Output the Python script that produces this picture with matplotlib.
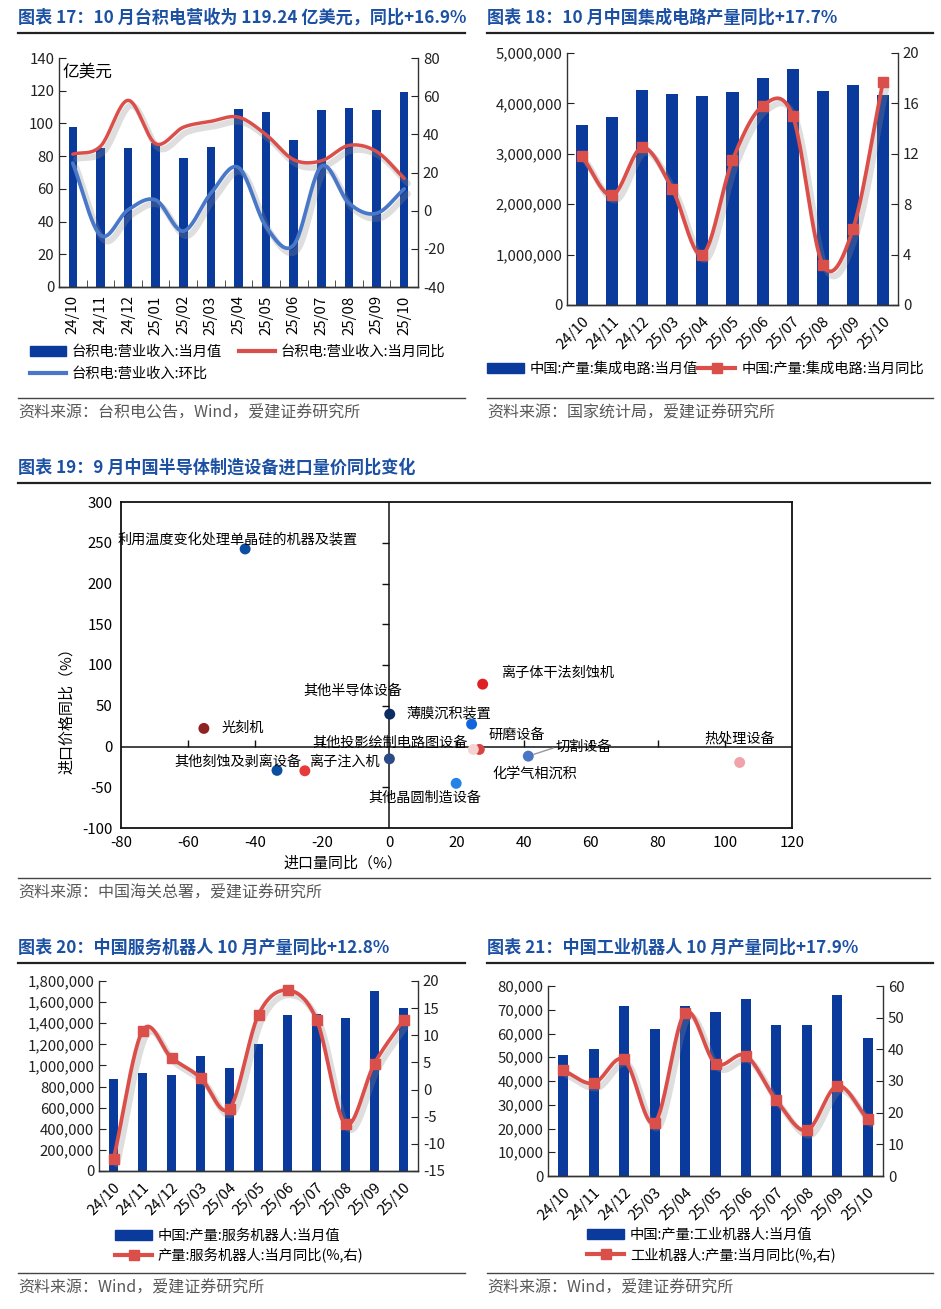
import numpy as np
import matplotlib
matplotlib.use("Agg")
import matplotlib.pyplot as plt
import matplotlib.patheffects as pe
from matplotlib.lines import Line2D
from matplotlib.patches import Patch
from matplotlib.ticker import StrMethodFormatter

plt.rcParams['font.family'] = ['Noto Sans CJK SC', 'DejaVu Sans']
plt.rcParams['axes.unicode_minus'] = False

# ---- data ----
tsmc_months = ['24/10', '24/11', '24/12', '25/01', '25/02', '25/03', '25/04',
               '25/05', '25/06', '25/07', '25/08', '25/09', '25/10']
tsmc_rev = [98, 85.2, 85, 88, 79, 85.8, 108.8, 106.8, 89.8, 108, 109.4, 108.4, 119.24]
tsmc_yoy = [29.6, 33.7, 57.8, 35.1, 43.7, 46.8, 49.0, 39.8, 26.7, 26.1, 34.2, 31.0, 16.9]
tsmc_mom = [24.9, -12.8, 0.4, 5.6, -10.7, 9.1, 22.6, -8.4, -18.0, 23.2, 3.9, -1.4, 11.4]

months = ['24/10', '24/11', '24/12', '25/03', '25/04', '25/05', '25/06',
          '25/07', '25/08', '25/09', '25/10']
ic_output = [3576000, 3740000, 4270000, 4190000, 4150000, 4230000, 4500000,
             4680000, 4240000, 4360000, 4170000]
ic_yoy = [11.8, 8.7, 12.5, 9.2, 4.0, 11.5, 15.8, 15.0, 3.2, 6.0, 17.7]

svc_output = [867000, 933000, 914000, 1088000, 980000, 1207000, 1475000,
              1485000, 1453000, 1709000, 1545000]
svc_yoy = [-12.85, 10.8, 5.85, 2.2, -3.5, 13.8, 18.3, 12.9, -6.4, 4.8, 12.8]

ind_output = [50800, 53600, 71400, 61900, 71500, 69000, 74700, 63700, 63700, 76200, 57900]
ind_yoy = [33.4, 29.3, 36.8, 16.8, 51.6, 35.5, 38.0, 23.9, 14.4, 28.5, 17.9]

equip_names = ['利用温度变化处理单晶硅的机器及装置', '光刻机', '其他半导体设备', '离子体干法刻蚀机',
               '薄膜沉积装置', '研磨设备', '其他投影绘制电路图设备', '切割设备', '化学气相沉积',
               '热处理设备', '其他刻蚀及剥离设备', '离子注入机', '其他晶圆制造设备']
equip_vol_yoy = [-43.0, -55.3, 0.1, 27.8, 24.5, 26.8, 0.0, 41.4, 25.0, 104.4, -33.5, -25.2, 19.9]
equip_price_yoy = [242.4, 22.2, 39.7, 76.5, 27.5, -3.6, -15.1, -11.8, -3.6, -19.6, -29.3, -29.8, -45.2]
equip_colors = ['#0B4EA2', '#8E2323', '#0C2D63', '#E01F22', '#1264DC', '#D84444', '#2C4A86',
                '#4A74C4', '#F6D3D3', '#F2A3AA', '#0B4EA2', '#E83A3A', '#2384E6']
# label offsets (pixels, label centre relative to point)
equip_label_off = [(-7, 10), (39, 0), (-37, 23), (75, 11), (-23, 11), (37, 14), (1, 16),
                   (56, 9), (62, -24), (0, 24), (-39, 9), (40, 9), (-31, -14)]

BLUE_BAR = '#0A3A9C'
RED = '#DB4F4A'
BLUE_LINE = '#4A78C8'
TITLE_C = '#1B50A3'
SRC_C = '#595959'

W, H = 941, 1309
fig = plt.figure(figsize=(W / 100, H / 100), dpi=100)


def box(l, t, r, b):
    return fig.add_axes([l / W, 1 - b / H, (r - l) / W, (b - t) / H])


def hline(x0, x1, y, lw, c):
    fig.add_artist(Line2D([x0 / W, x1 / W], [1 - y / H, 1 - y / H], lw=lw, color=c))


def frame(x0, x1, y_title, title, y_sep, src):
    fig.text(x0 / W, 1 - y_title / H, title, fontsize=12.3, fontweight='bold',
             color=TITLE_C, va='center', ha='left')
    hline(x0, x1, y_title + 15, 1.6, '#222222')
    hline(x0, x1, y_sep, 1.0, '#444444')
    fig.text(x0 / W, 1 - (y_sep + 15) / H, src, fontsize=11.5, color=SRC_C,
             va='center', ha='left')


def smooth(y, n=24):
    y = np.asarray(y, float)
    x = np.arange(len(y), dtype=float)
    px = np.concatenate([[2 * x[0] - x[1]], x, [2 * x[-1] - x[-2]]])
    py = np.concatenate([[2 * y[0] - y[1]], y, [2 * y[-1] - y[-2]]])
    xs, ys = [], []
    t = np.linspace(0, 1, n, endpoint=False)
    for i in range(1, len(px) - 2):
        for arr, out in ((px, xs), (py, ys)):
            p0, p1, p2, p3 = arr[i - 1], arr[i], arr[i + 1], arr[i + 2]
            out.extend(0.5 * (2 * p1 + (-p0 + p2) * t + (2 * p0 - 5 * p1 + 4 * p2 - p3) * t ** 2
                              + (-p0 + 3 * p1 - 3 * p2 + p3) * t ** 3))
    xs.append(x[-1])
    ys.append(y[-1])
    return np.array(xs), np.array(ys)


shadow = [pe.SimpleLineShadow(offset=(2.5, -3.5), shadow_color='#8a8a8a', alpha=0.28,
                              linewidth=4.5),
          pe.Normal()]


def style_axes(ax, ax2):
    for a in (ax, ax2):
        a.spines['top'].set_visible(False)
        for s in ('left', 'right', 'bottom'):
            a.spines[s].set_color('#333333')
            a.spines[s].set_linewidth(1.0)
        a.tick_params(axis='y', direction='in', length=5, labelsize=10.8, colors='#222222')
    ax2.spines['left'].set_visible(False)
    ax.spines['right'].set_visible(False)


# ---------------- Panel 17 ----------------
frame(18, 465, 18, '图表 17：10 月台积电营收为 119.24 亿美元，同比+16.9%', 398,
      '资料来源：台积电公告，Wind，爱建证券研究所')
ax = box(59, 58, 418, 287)
x = np.arange(len(tsmc_months))
ax.bar(x, tsmc_rev, width=0.31, color=BLUE_BAR, zorder=2)
ax.set_xlim(-0.5, len(x) - 0.5)
ax.set_ylim(0, 140)
ax.set_yticks(range(0, 141, 20))
ax2 = ax.twinx()
ax2.set_ylim(-40, 80)
ax2.set_yticks(range(-40, 81, 20))
sx, sy = smooth(tsmc_yoy)
ax2.plot(sx, sy, color=RED, lw=2.5, path_effects=shadow, solid_capstyle='round')
sx, sy = smooth(tsmc_mom)
ax2.plot(sx, sy, color=BLUE_LINE, lw=2.7, path_effects=shadow, solid_capstyle='round')
style_axes(ax, ax2)
ax.set_xticks(x)
ax.set_xticklabels(tsmc_months, rotation=90, fontsize=10.8)
ax.set_xticks(np.arange(-0.5, len(x), 1), minor=True)
ax.tick_params(axis='x', which='major', length=0, pad=6)
ax.tick_params(axis='x', which='minor', direction='in', length=5, color='#333333')
ax.text(0.01, 0.94, '亿美元', transform=ax.transAxes, fontsize=12, va='center')
h = [Patch(color=BLUE_BAR), Line2D([], [], color=BLUE_LINE, lw=3), Line2D([], [], color=RED, lw=3)]
lab = ['台积电:营业收入:当月值', '台积电:营业收入:环比', '台积电:营业收入:当月同比']
ax.legend(h, lab, ncol=2, loc='upper left', bbox_to_anchor=(30 / W, 1 - 345 / H),
          bbox_transform=fig.transFigure, frameon=False, fontsize=10.3, borderpad=0,
          borderaxespad=0, handlelength=2.5, handletextpad=0.4, columnspacing=1.2,
          labelspacing=0.55)


def bar_line(rect, cats, bars, line, ylim1, step1, ylim2, step2, bw, leg_labels, leg_xy, ncol):
    ax = box(*rect)
    x = np.arange(len(cats))
    ax.bar(x, bars, width=bw, color=BLUE_BAR, zorder=2)
    ax.set_xlim(-0.5, len(x) - 0.5)
    ax.set_ylim(*ylim1)
    ax.set_yticks(np.arange(ylim1[0], ylim1[1] + 1, step1))
    ax.yaxis.set_major_formatter(StrMethodFormatter('{x:,.0f}'))
    ax2 = ax.twinx()
    ax2.set_ylim(*ylim2)
    ax2.set_yticks(np.arange(ylim2[0], ylim2[1] + 0.1, step2))
    sx, sy = smooth(line)
    ax2.plot(sx, sy, color=RED, lw=2.7, path_effects=shadow, solid_capstyle='round')
    ax2.plot(x, line, ls='none', marker='s', ms=6.5, color=RED)
    style_axes(ax, ax2)
    ax.set_xticks(x)
    ax.set_xticklabels(cats, rotation=45, ha='right', rotation_mode='anchor', fontsize=10.8)
    ax.tick_params(axis='x', length=0, pad=7)
    h = [Patch(color=BLUE_BAR), Line2D([], [], color=RED, lw=3, marker='s', ms=7)]
    ax.legend(h, leg_labels, ncol=ncol, loc='upper left',
              bbox_to_anchor=(leg_xy[0] / W, 1 - leg_xy[1] / H),
              bbox_transform=fig.transFigure, frameon=False, fontsize=10.3, borderpad=0,
              borderaxespad=0, handlelength=2.6, handletextpad=0.4, columnspacing=0.0,
              labelspacing=0.35)
    return ax, ax2


# ---------------- Panel 18 ----------------
frame(487, 933, 18, '图表 18：10 月中国集成电路产量同比+17.7%', 398,
      '资料来源：国家统计局，爱建证券研究所')
bar_line((567, 53, 898, 305), months, ic_output, ic_yoy, (0, 5000000), 1000000, (0, 20), 4,
         0.4, ['中国:产量:集成电路:当月值', '中国:产量:集成电路:当月同比'], (487, 362), 2)

# ---------------- Panel 19 ----------------
frame(18, 930, 468, '图表 19：9 月中国半导体制造设备进口量价同比变化', 878,
      '资料来源：中国海关总署，爱建证券研究所')
ax = box(121, 502, 792, 828)
ax.set_xlim(-80, 120)
ax.set_ylim(-100, 300)
ax.set_xticks(range(-80, 121, 20))
ax.set_yticks(range(-100, 301, 50))
ax.tick_params(length=0, labelsize=10.8, pad=6)
for s in ax.spines.values():
    s.set_color('#111111')
    s.set_linewidth(1.3)
ax.axhline(0, color='#111111', lw=1.1, zorder=1)
ax.axvline(0, color='#111111', lw=1.1, zorder=1)
xt = [v for v in range(-60, 101, 20) if v != 0]
ax.plot(xt, [0] * len(xt), ls='none', marker=2, ms=5, color='#111111', mew=1)
yt = [v for v in range(-50, 251, 50) if v != 0]
ax.plot([0] * len(yt), yt, ls='none', marker=0, ms=5, color='#111111', mew=1)
ax.scatter(equip_vol_yoy, equip_price_yoy, c=equip_colors, s=62, zorder=3, linewidths=0)
for name, vx, vy, off in zip(equip_names, equip_vol_yoy, equip_price_yoy, equip_label_off):
    kw = {}
    if name == '切割设备':
        kw['arrowprops'] = dict(arrowstyle='-', color='#999999', lw=1, shrinkA=0, shrinkB=4,
                                relpos=(0, 0.5))
    ax.annotate(name, (vx, vy), xytext=off, textcoords='offset pixels', ha='center',
                va='center', fontsize=10.2, zorder=4, **kw)
ax.set_xlabel('进口量同比（%）', fontsize=10.8)
ax.set_ylabel('进口价格同比（%）', fontsize=10.8)
ax.xaxis.set_label_coords(0.33, -0.085)
ax.yaxis.set_label_coords(-0.07, 0.37)

# ---------------- Panel 20 ----------------
frame(18, 465, 948, '图表 20：中国服务机器人 10 月产量同比+12.8%', 1273,
      '资料来源：Wind，爱建证券研究所')
bar_line((99, 981, 418, 1171), months, svc_output, svc_yoy, (0, 1800000), 200000, (-15, 20), 5,
         0.31, ['中国:产量:服务机器人:当月值', '产量:服务机器人:当月同比(%,右)'], (115, 1229), 1)

# ---------------- Panel 21 ----------------
frame(487, 933, 948, '图表 21：中国工业机器人 10 月产量同比+17.9%', 1273,
      '资料来源：Wind，爱建证券研究所')
bar_line((548, 986, 883, 1176), months, ind_output, ind_yoy, (0, 80000), 10000, (0, 60), 10,
         0.33, ['中国:产量:工业机器人:当月值', '工业机器人:产量:当月同比(%,右)'], (587, 1228), 1)

fig.savefig('out.png', dpi=100)
